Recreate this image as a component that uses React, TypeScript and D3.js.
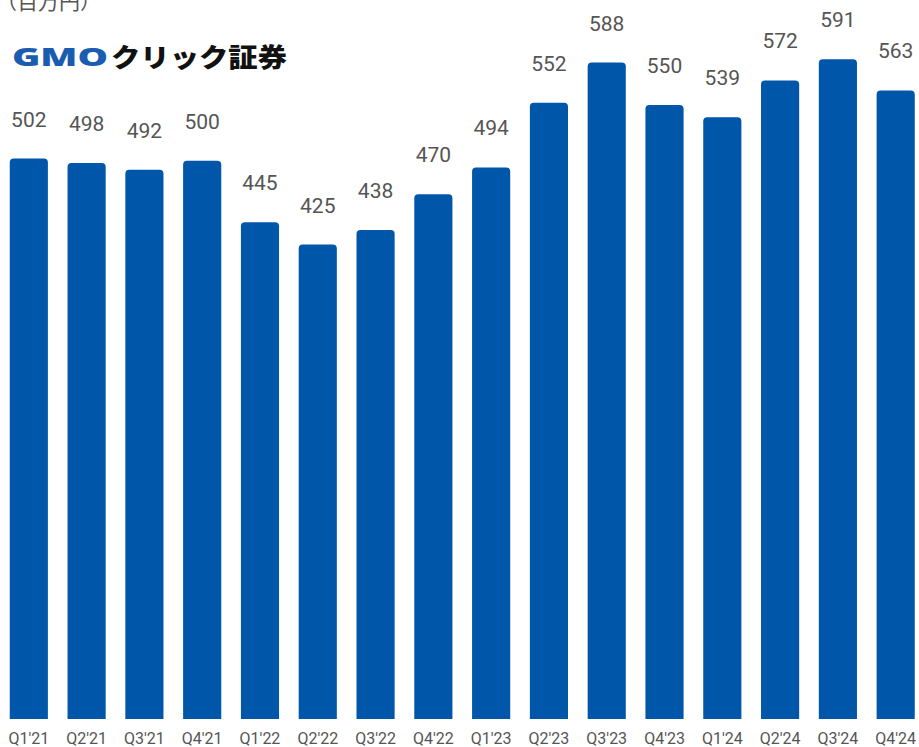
import React from "react";
import * as d3 from "d3";

const categories = ["Q1'21","Q2'21","Q3'21","Q4'21","Q1'22","Q2'22","Q3'22","Q4'22","Q1'23","Q2'23","Q3'23","Q4'23","Q1'24","Q2'24","Q3'24","Q4'24"];
const values = [502,498,492,500,445,425,438,470,494,552,588,550,539,572,591,563];

const W = 919, H = 747;
const BLUE = "#0056a8";

function barPath(x: number, y: number, w: number, h: number, r: number) {
  return `M${x},${y + h}V${y + r}Q${x},${y} ${x + r},${y}H${x + w - r}Q${x + w},${y} ${x + w},${y + r}V${y + h}Z`;
}

export default function App() {
  const x = d3.scaleBand<string>().domain(categories).range([0.5, 924]).paddingInner(0.34).paddingOuter(0.16);
  const y = d3.scaleLinear().domain([0, 644]).range([719, 0]);
  const font = "Roboto, 'Noto Sans', sans-serif";
  return (
    <svg width={W} height={H} style={{ position: "absolute", left: 0, top: 0, background: "#fff" }}>
      <text x={-4} y={9} fontSize={21} fill="#555" fontFamily="'Noto Sans CJK JP', sans-serif">（百万円）</text>
      <g fontFamily="'Noto Sans CJK JP', sans-serif" fontWeight={900}>
        <text x={12} y={66} fontSize={25} fill="#1a5cb0" textLength={96} lengthAdjust="spacingAndGlyphs" fontFamily="'Noto Sans', sans-serif" fontWeight="900">GMO</text>
        <text x={111} y={67} fontSize={26} fill="#111" textLength={176} lengthAdjust="spacingAndGlyphs">クリック証券</text>
      </g>
      {categories.map((c, i) => {
        const bx = x(c)!;
        const bw = x.bandwidth();
        const by = y(values[i]);
        return (
          <g key={c}>
            <path d={barPath(bx, by, bw, 719 - by, 4)} fill={BLUE} />
            <text x={bx + bw / 2} y={by - 32} textAnchor="middle" fontSize={21} fill="#555" fontFamily={font}>{values[i]}</text>
            <text x={bx + bw / 2} y={744} textAnchor="middle" fontSize={16} fill="#555" fontFamily={font}>{c}</text>
          </g>
        );
      })}
    </svg>
  );
}
